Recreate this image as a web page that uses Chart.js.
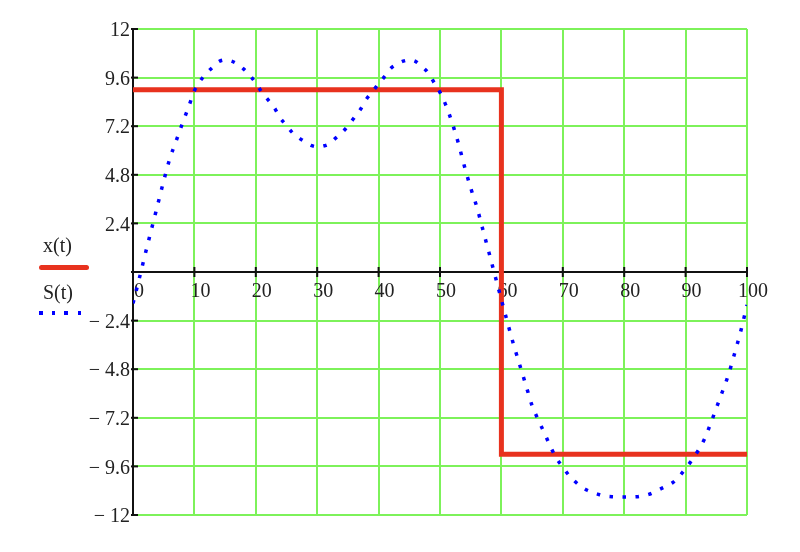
<!DOCTYPE html>
<html><head><meta charset="utf-8">
<script src="https://cdn.jsdelivr.net/npm/chart.js@4/dist/chart.umd.min.js"></script>
<style>
html,body{margin:0;padding:0;background:#fff;}
#wrap{position:relative;width:800px;height:552px;overflow:hidden;}
canvas{position:absolute;left:0;top:0;}
.lg{position:absolute;font-family:'Liberation Serif','Times New Roman',serif;font-size:20px;line-height:20px;color:#222;white-space:nowrap;}
.red{position:absolute;left:39px;top:264.5px;width:50px;height:5px;background:#E8321E;border-radius:2.5px;}
.dot{position:absolute;width:3.5px;height:3.5px;background:#0000FF;}
</style></head><body>
<div id="wrap">
<canvas id="c" width="800" height="552"></canvas>
<span class="lg" style="left:43px;top:235px">x(t)</span>
<div class="red"></div>
<span class="lg" style="left:43px;top:282px">S(t)</span>
<div class="dot" style="left:39px;top:311px"></div>
<div class="dot" style="left:51.5px;top:311px"></div>
<div class="dot" style="left:64px;top:311px"></div>
<div class="dot" style="left:77.5px;top:311px"></div>
</div>
<script>
// ---- data ----
const sTimes = [0,1,2,3,4,5,6,7,8,9,10,11,12,13,14,15,16,17,18,19,20,21,22,23,24,25,26,27,28,29,30,31,32,33,34,35,36,37,38,39,40,41,42,43,44,45,46,47,48,49,50,51,52,53,54,55,56,57,58,59,60,61,62,63,64,65,66,67,68,69,70,71,72,73,74,75,76,77,78,79,80,81,82,83,84,85,86,87,88,89,90,91,92,93,94,95,96,97,98,99,100];
const sValues = [-1.55,-0.35,0.9,2.1,3.3,4.5,5.6,6.45,7.3,8.1,8.95,9.46,9.82,10.12,10.39,10.47,10.42,10.27,10.03,9.72,9.33,8.87,8.5,8.12,7.6,7.24,6.87,6.63,6.43,6.25,6.18,6.22,6.34,6.61,6.87,7.21,7.61,8.01,8.53,8.9,9.3,9.66,10.06,10.26,10.41,10.47,10.4,10.16,9.86,9.37,8.87,8.2,7.35,6.35,5.2,4.15,3.21,2.07,0.93,-0.22,-1.37,-2.5,-3.6,-4.6,-5.6,-6.6,-7.3,-7.95,-8.63,-9.22,-9.63,-10.04,-10.35,-10.6,-10.78,-10.9,-11.0,-11.07,-11.1,-11.11,-11.11,-11.11,-11.1,-11.05,-10.98,-10.85,-10.7,-10.55,-10.38,-10.08,-9.7,-9.3,-8.84,-8.3,-7.55,-6.72,-5.9,-5.05,-4.0,-2.9,-1.63];
const xTimes = [0,60,60,100];
const xValues = [9,9,-9,-9];
const xTickValues = [0,10,20,30,40,50,60,70,80,90,100];
const xTickLabels = ['0','10','20','30','40','50','60','70','80','90','100'];
const yTickValues = [-12,-9.6,-7.2,-4.8,-2.4,0,2.4,4.8,7.2,9.6,12];
const yTickLabels = ['\u2212 12','\u2212 9.6','\u2212 7.2','\u2212 4.8','\u2212 2.4','','2.4','4.8','7.2','9.6','12'];

const GREEN = '#7DF25A';
const FONT = {family:"'Liberation Serif','Times New Roman',serif", size:20};

const tickMarks = {
  id:'tickMarks',
  beforeDatasetsDraw(chart){
    const {ctx, scales:{x,y}} = chart;
    const y0 = y.getPixelForValue(0), x0 = x.getPixelForValue(0);
    ctx.save(); ctx.strokeStyle='#111'; ctx.lineWidth=2;
    x.ticks.forEach(t=>{ if(t.value===0) return; const px=x.getPixelForValue(t.value);
      ctx.beginPath(); ctx.moveTo(px,y0-5); ctx.lineTo(px,y0+5); ctx.stroke(); });
    y.ticks.forEach(t=>{ const py=y.getPixelForValue(t.value);
      ctx.beginPath(); ctx.moveTo(x0-2,py); ctx.lineTo(x0+5,py); ctx.stroke(); });
    ctx.restore();
  }
};

new Chart(document.getElementById('c'), {
  type:'scatter',
  data:{datasets:[
    {label:'S(t)', data:sTimes.map((t,i)=>({x:t,y:sValues[i]})), showLine:true, order:0,
     borderColor:'#0000FF', borderWidth:3.5, borderDash:[3.5,9.5], borderCapStyle:'butt',
     pointRadius:0, cubicInterpolationMode:'monotone', fill:false},
    {label:'x(t)', data:xTimes.map((t,i)=>({x:t,y:xValues[i]})), showLine:true, order:1,
     borderColor:'#E8321E', borderWidth:5, borderJoinStyle:'miter', pointRadius:0, tension:0, fill:false}
  ]},
  options:{
    responsive:false, animation:false, devicePixelRatio:1,
    layout:{padding:{left:0,right:53,top:29,bottom:37}},
    plugins:{legend:{display:false}, tooltip:{enabled:false}},
    scales:{
      x:{type:'linear', min:0, max:100, position:{y:0},
        afterBuildTicks:s=>{ s.ticks = xTickValues.map(v=>({value:v})); },
        ticks:{font:FONT, color:'#222', padding:8, labelOffset:6, maxRotation:0, autoSkip:false,
          callback:(v,i)=>xTickLabels[i]},
        grid:{color:c=>(c.tick && c.tick.value===0)?'rgba(0,0,0,0)':GREEN, lineWidth:2, drawTicks:false},
        border:{color:'#111', width:2}
      },
      y:{type:'linear', min:-12, max:12, position:'left',
        afterFit:s=>{ s.width = 133; },
        afterBuildTicks:s=>{ s.ticks = yTickValues.map(v=>({value:v})); },
        ticks:{font:FONT, color:'#222', padding:3, labelOffset:2, autoSkip:false,
          callback:(v,i)=>yTickLabels[i]},
        grid:{color:c=>(c.tick && c.tick.value===0)?'rgba(0,0,0,0)':GREEN, lineWidth:2, drawTicks:false},
        border:{color:'#111', width:2}
      }
    }
  },
  plugins:[tickMarks]
});
</script>
</body></html>
